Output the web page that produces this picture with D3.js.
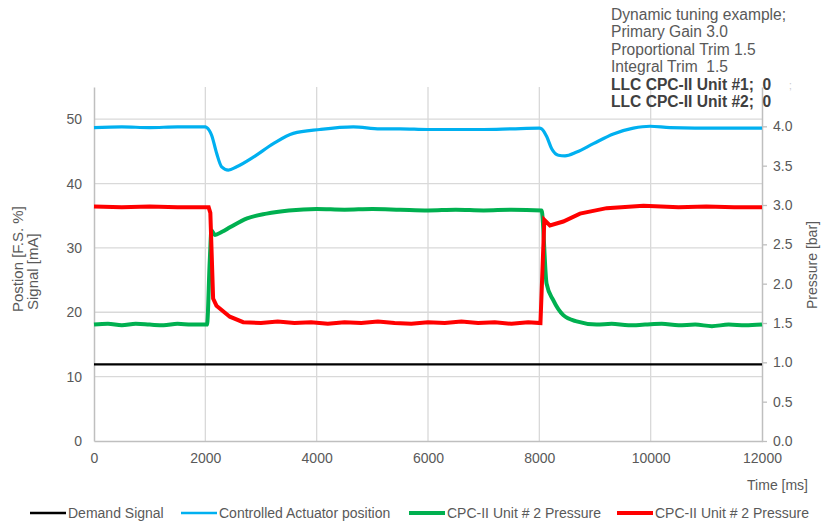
<!DOCTYPE html>
<html>
<head>
<meta charset="utf-8">
<script src="https://cdn.jsdelivr.net/npm/d3@7"></script>
<style>
body { margin: 0; background: #fff; }
svg { font-family: "Liberation Sans", Arial, sans-serif; }
svg text { white-space: pre; }
</style>
</head>
<body>
<script>
var width = 822
var height = 524
var margin = {left: 94, right: 60, top: 87, bottom: 83}

// time [ms], value
var demandSignal = [[0, 11.9], [12000, 11.9]]
var actuatorPosition = [[0, 48.7], [500, 48.8], [1000, 48.7], [1500, 48.8], [2000, 48.8], [2024, 48.7],
  [2113, 47.5], [2203, 44.7], [2293, 42.6], [2413, 42.1], [2563, 42.6], [2862, 44.1], [3221, 46.2],
  [3580, 47.8], [4060, 48.4], [4658, 48.8], [5138, 48.5], [5500, 48.5], [6000, 48.4], [6500, 48.4],
  [7000, 48.4], [7500, 48.5], [8000, 48.6], [8042, 48.5], [8132, 47.3], [8222, 45.4], [8342, 44.4],
  [8461, 44.3], [8671, 44.9], [8970, 46.2], [9330, 47.7], [9689, 48.6], [9988, 48.9], [10347, 48.7],
  [11245, 48.6], [12000, 48.6]]
// pressures in bar
var unit2PressureA = [[0, 1.48], [250, 1.49], [500, 1.47], [750, 1.49], [1000, 1.48], [1250, 1.47],
  [1500, 1.49], [1750, 1.48], [2030, 1.48], [2080, 2.3], [2110, 2.68], [2170, 2.62], [2300, 2.66],
  [2450, 2.72], [2750, 2.83], [3100, 2.89], [3500, 2.93], [4000, 2.95], [4500, 2.94], [5000, 2.95],
  [5500, 2.94], [6000, 2.93], [6500, 2.94], [7000, 2.93], [7500, 2.94], [8040, 2.93], [8130, 2.0],
  [8250, 1.79], [8430, 1.6], [8670, 1.52], [9030, 1.48], [9300, 1.49], [9600, 1.47], [9900, 1.48],
  [10200, 1.49], [10500, 1.47], [10800, 1.48], [11100, 1.46], [11400, 1.48], [11700, 1.47], [12000, 1.48]]
var unit2PressureB = [[0, 2.98], [500, 2.97], [1000, 2.98], [1500, 2.97], [2060, 2.97], [2090, 2.9],
  [2140, 1.81], [2200, 1.72], [2440, 1.58], [2680, 1.51], [3000, 1.5], [3300, 1.52], [3600, 1.5],
  [3900, 1.51], [4200, 1.49], [4500, 1.51], [4800, 1.5], [5100, 1.52], [5400, 1.5], [5700, 1.49],
  [6000, 1.51], [6300, 1.5], [6600, 1.52], [6900, 1.5], [7200, 1.51], [7500, 1.49], [7800, 1.51],
  [8020, 1.5], [8090, 2.81], [8190, 2.74], [8430, 2.79], [8730, 2.89], [9210, 2.96], [9870, 2.99],
  [10500, 2.97], [11000, 2.98], [11500, 2.97], [12000, 2.97]]

var xTicks = [0, 2000, 4000, 6000, 8000, 10000, 12000]
var leftTicks = [0, 10, 20, 30, 40, 50]
var rightTicks = [0, 0.5, 1, 1.5, 2, 2.5, 3, 3.5, 4]
var notes = ["Dynamic tuning example;", "Primary Gain 3.0", "Proportional Trim 1.5", "Integral Trim  1.5",
  "LLC CPC-II Unit #1;  0", "LLC CPC-II Unit #2;  0"]
var legendNames = ["Demand Signal", "Controlled Actuator position", "CPC-II Unit # 2 Pressure", "CPC-II Unit # 2 Pressure"]
var colors = ["#000000", "#00b0f0", "#00b050", "#ff0000"]

var x = d3.scaleLinear().domain([0, 12000]).range([margin.left, 762])
var y = d3.scaleLinear().domain([0, 55]).range([441, margin.top])
var y2 = d3.scaleLinear().domain([0, 4.5]).range([441, margin.top])

var svg = d3.select("body").append("svg")
  .attr("width", width)
  .attr("height", height)

// grid
svg.append("g").selectAll("line").data(leftTicks.slice(1)).enter().append("line")
  .attr("x1", x(0)).attr("x2", x(12000))
  .attr("y1", function(d) { return y(d) }).attr("y2", function(d) { return y(d) })
  .attr("stroke", "#d9d9d9").attr("stroke-width", 1.3)
svg.append("g").selectAll("line").data(xTicks.slice(1, -1)).enter().append("line")
  .attr("y1", y(0)).attr("y2", y(55))
  .attr("x1", function(d) { return x(d) }).attr("x2", function(d) { return x(d) })
  .attr("stroke", "#d9d9d9").attr("stroke-width", 1.3)

// axes
var axisColor = "#bfbfbf"
var textColor = "#595959"

var gx = svg.append("g").attr("transform", "translate(0," + y(0) + ")")
  .call(d3.axisBottom(x).tickValues(xTicks).tickSize(0).tickPadding(12).tickFormat(d3.format("d")))
var gl = svg.append("g").attr("transform", "translate(" + x(0) + ",0)")
  .call(d3.axisLeft(y).tickValues(leftTicks).tickSize(0).tickPadding(12))
var gr = svg.append("g").attr("transform", "translate(" + x(12000) + ",0)")
  .call(d3.axisRight(y2).tickValues(rightTicks).tickSizeOuter(0).tickSizeInner(5).tickPadding(6).tickFormat(d3.format(".1f")))

;[gx, gl, gr].forEach(function(g) {
  g.select(".domain").attr("stroke", axisColor).attr("stroke-width", 1.5)
  g.selectAll(".tick line").attr("stroke", axisColor).attr("stroke-width", 1.3)
  g.selectAll("text").attr("fill", textColor).style("font-size", "14px").style("font-family", "Liberation Sans, Arial, sans-serif")
})

// lines
var lineLeft = d3.line().x(function(d) { return x(d[0]) }).y(function(d) { return y(d[1]) })
var lineRight = d3.line().x(function(d) { return x(d[0]) }).y(function(d) { return y2(d[1]) })

svg.append("path").datum(demandSignal).attr("d", lineLeft)
  .attr("fill", "none").attr("stroke", colors[0]).attr("stroke-width", 2.2)
svg.append("path").datum(actuatorPosition).attr("d", lineLeft.curve(d3.curveMonotoneX))
  .attr("fill", "none").attr("stroke", colors[1]).attr("stroke-width", 3.2)
svg.append("path").datum(unit2PressureA).attr("d", lineRight.curve(d3.curveMonotoneX))
  .attr("fill", "none").attr("stroke", colors[2]).attr("stroke-width", 4)
svg.append("path").datum(unit2PressureB).attr("d", lineRight.curve(d3.curveLinear))
  .attr("fill", "none").attr("stroke", colors[3]).attr("stroke-width", 4)

// axis titles
svg.append("text").attr("transform", "translate(23,312) rotate(-90)")
  .attr("fill", textColor).style("font-size", "15px").text("Postion [F.S. %]")
svg.append("text").attr("transform", "translate(38,310) rotate(-90)")
  .attr("fill", textColor).style("font-size", "15px").text("Signal [mA]")
svg.append("text").attr("transform", "translate(817,265) rotate(-90)")
  .attr("text-anchor", "middle").attr("fill", textColor).style("font-size", "14px").text("Pressure [bar]")
svg.append("text").attr("x", 808).attr("y", 490).attr("text-anchor", "end")
  .attr("fill", textColor).style("font-size", "14px").text("Time [ms]")

// notes
svg.append("g").selectAll("text").data(notes).enter().append("text")
  .attr("x", 611).attr("y", function(d, i) { return 20 + i * 17.4 })
  .attr("fill", function(d, i) { return i > 3 ? "#404040" : textColor })
  .style("font-weight", function(d, i) { return i > 3 ? "bold" : "normal" })
  .style("font-size", "15.6px")
  .text(function(d) { return d })
svg.append("text").attr("x", 789).attr("y", 89).attr("fill", "#c8c8c8").style("font-size", "10px").text(";")

// legend
var legendX = [30, 181, 409, 617]
var leg = svg.append("g").selectAll("g").data(legendNames).enter().append("g")
  .attr("transform", function(d, i) { return "translate(" + legendX[i] + ",513)" })
leg.append("line").attr("x1", 0).attr("x2", 36).attr("y1", 0).attr("y2", 0)
  .attr("stroke", function(d, i) { return colors[i] })
  .attr("stroke-width", function(d, i) { return i < 2 ? 2.5 : 4 })
leg.append("text").attr("x", 38).attr("y", 5).attr("fill", textColor).style("font-size", "14px")
  .text(function(d) { return d })
</script>
</body>
</html>
